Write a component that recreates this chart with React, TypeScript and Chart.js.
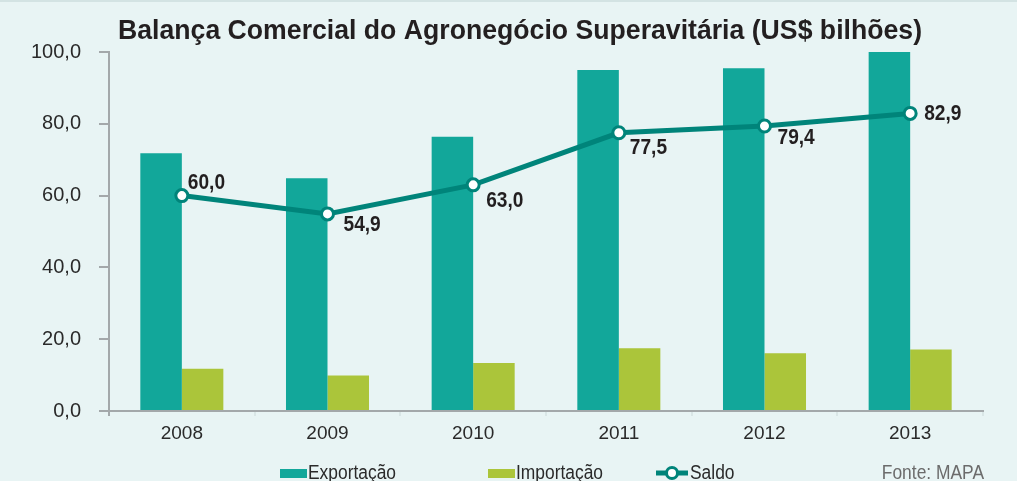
import { useEffect, useRef } from "react";
import { Chart, registerables } from "chart.js";

Chart.register(...registerables);

const categories = ["2008", "2009", "2010", "2011", "2012", "2013"];
const exportacao = [71.8, 64.8, 76.4, 95.0, 95.5, 100.0];
const importacao = [11.8, 9.9, 13.4, 17.5, 16.1, 17.1];
const saldo = [60.0, 54.9, 63.0, 77.5, 79.4, 82.9];
const yTicks = [0, 20, 40, 60, 80, 100];

const TITLE = "Balança Comercial do Agronegócio Superavitária (US$ bilhões)";
const SOURCE = "Fonte: MAPA";

const labelOffsets = [
  [6, -13],
  [16, 11],
  [13, 16],
  [11, 15],
  [13, 12],
  [14, 1],
];

const EXP = "#12a79a";
const IMP = "#abc53a";
const LINE = "#00847a";
const BG = "#e8f4f4";
const SANS = "'Liberation Sans', Arial, sans-serif";

const fmt = (v: number) => v.toFixed(1).replace(".", ",");

// draw text horizontally condensed
function condText(ctx: any, text: string, x: number, y: number, sx: number, align: string) {
  ctx.save();
  const w = ctx.measureText(text).width * sx;
  let left = x;
  if (align === "right") left = x - w;
  else if (align === "center") left = x - w / 2;
  ctx.translate(left, y);
  ctx.scale(sx, 1);
  ctx.textAlign = "left";
  ctx.fillText(text, 0, 0);
  ctx.restore();
}

const overlay = {
  id: "overlay",
  afterDatasetsDraw(chart: any) {
    const ctx = chart.ctx;
    const meta = chart.getDatasetMeta(2);
    ctx.save();
    ctx.fillStyle = "#231f20";
    ctx.font = `bold 22px ${SANS}`;
    ctx.textBaseline = "middle";
    meta.data.forEach((pt: any, i: number) => {
      const [dx, dy] = labelOffsets[i];
      condText(ctx, fmt(saldo[i]), pt.x + dx, pt.y + dy, 0.87, "left");
    });
    ctx.restore();
  },
  afterDraw(chart: any) {
    const ctx = chart.ctx;
    ctx.save();
    // title
    ctx.fillStyle = "#231f20";
    ctx.font = `bold 28px ${SANS}`;
    ctx.textBaseline = "alphabetic";
    const tw = ctx.measureText(TITLE).width;
    condText(ctx, TITLE, 118, 37, 804 / tw, "left");

    const ly = 471;
    ctx.font = `20px ${SANS}`;
    ctx.textBaseline = "middle";
    // Exportação
    ctx.fillStyle = EXP;
    ctx.fillRect(280, 467, 27, 9);
    ctx.fillStyle = "#2a2a2a";
    condText(ctx, chart.data.datasets[0].label, 308, ly, 0.87, "left");
    // Importação
    ctx.fillStyle = IMP;
    ctx.fillRect(488, 467, 27, 9);
    ctx.fillStyle = "#2a2a2a";
    condText(ctx, chart.data.datasets[1].label, 516, ly, 0.87, "left");
    // Saldo
    ctx.strokeStyle = LINE;
    ctx.lineWidth = 5;
    ctx.beginPath();
    ctx.moveTo(656, 471);
    ctx.lineTo(688, 471);
    ctx.stroke();
    ctx.beginPath();
    ctx.arc(672, 471, 5.5, 0, Math.PI * 2);
    ctx.fillStyle = "#ffffff";
    ctx.fill();
    ctx.lineWidth = 3;
    ctx.stroke();
    ctx.fillStyle = "#2a2a2a";
    condText(ctx, chart.data.datasets[2].label, 690, ly, 0.87, "left");
    // Fonte
    ctx.fillStyle = "#6b6b6b";
    condText(ctx, SOURCE, 984, ly, 0.87, "right");
    ctx.restore();
  },
};

export default function App() {
  const ref = useRef<HTMLCanvasElement | null>(null);
  useEffect(() => {
    if (!ref.current) return;
    const chart = new Chart(ref.current, {
      type: "bar",
      data: {
        labels: categories,
        datasets: [
          {
            type: "bar",
            label: "Exportação",
            data: exportacao,
            backgroundColor: EXP,
            categoryPercentage: 0.57,
            barPercentage: 1,
            order: 2,
          },
          {
            type: "bar",
            label: "Importação",
            data: importacao,
            backgroundColor: IMP,
            categoryPercentage: 0.57,
            barPercentage: 1,
            order: 2,
          },
          {
            type: "line",
            label: "Saldo",
            data: saldo,
            borderColor: LINE,
            borderWidth: 5,
            pointRadius: 6,
            pointBorderWidth: 3,
            pointBackgroundColor: "#ffffff",
            pointBorderColor: LINE,
            tension: 0,
            order: 0,
          } as any,
        ],
      },
      options: {
        animation: false,
        responsive: false,
        maintainAspectRatio: false,
        layout: { padding: { top: 50, right: 34, bottom: 0, left: 0 } },
        plugins: {
          legend: { display: false },
          tooltip: { enabled: false },
          title: { display: false },
        },
        scales: {
          x: {
            offset: true,
            grid: {
              display: true,
              drawOnChartArea: false,
              tickLength: 5,
              color: (c: any) => (c.index === 0 || c.index === 6 ? "#a3a8aa" : "#d9e6e6"),
              lineWidth: 2,
            },
            border: { display: true, color: "#a3a8aa", width: 2 },
            ticks: {
              color: "#2a2a2a",
              font: { family: SANS, size: 19 },
              padding: 6,
            },
            afterFit: (axis: any) => {
              axis.height = 70;
            },
          },
          y: {
            min: 0,
            max: 100,
            afterBuildTicks: (axis: any) => {
              axis.ticks = yTicks.map((v) => ({ value: v }));
            },
            grid: {
              display: true,
              drawOnChartArea: false,
              tickLength: 10,
              color: "#a3a8aa",
              lineWidth: 2,
            },
            border: { display: true, color: "#a3a8aa", width: 2 },
            ticks: {
              color: "#2a2a2a",
              font: { family: SANS, size: 20 },
              padding: 18,
              callback: (v: any) => fmt(Number(v)),
            },
            afterFit: (axis: any) => {
              axis.width = 109;
            },
          },
        },
      },
      plugins: [overlay],
    });
    return () => chart.destroy();
  }, []);
  return (
    <div
      style={{
        position: "fixed",
        left: 0,
        top: 0,
        width: 1017,
        height: 481,
        background: BG,
        borderTop: "2px solid #d3e3e3",
        boxSizing: "border-box",
      }}
    >
      <canvas ref={ref} width={1017} height={479} style={{ display: "block" }} />
    </div>
  );
}
